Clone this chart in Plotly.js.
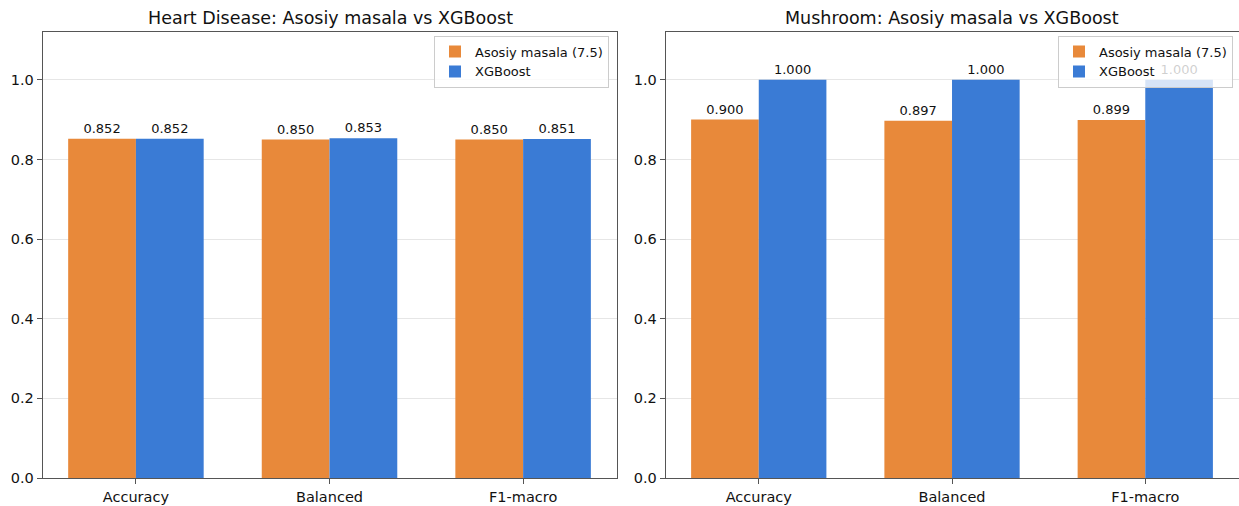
<!DOCTYPE html>
<html>
<head>
<meta charset="utf-8">
<script src="https://cdn.plot.ly/plotly-3.0.1.min.js"></script>
<style>html,body{margin:0;padding:0;background:#fff;}#chart{width:1239px;height:506px;}</style>
</head>
<body>
<div id="chart"></div>
<script>
const categories = ["Accuracy", "Balanced", "F1-macro"];
const seriesNames = ["Asosiy masala (7.5)", "XGBoost"];
const heartBase = [0.852, 0.850, 0.850];
const heartXgb = [0.852, 0.853, 0.851];
const mushBase = [0.900, 0.897, 0.899];
const mushXgb = [1.000, 1.000, 1.000];
const titles = ["Heart Disease: Asosiy masala vs XGBoost", "Mushroom: Asosiy masala vs XGBoost"];
const yTicks = [0, 0.2, 0.4, 0.6, 0.8, 1.0];

const ORANGE = "#e8893a";
const BLUE = "#3a7bd5";
const FONT = "DejaVu Sans, sans-serif";

function bar(y, name, color, xa, ya, leg) {
  return {
    type: "bar", x: [0, 1, 2], y: y, name: name,
    marker: {color: color, line: {width: 0}},
    xaxis: xa, yaxis: ya, legend: leg,
    texttemplate: "%{y:.3f}", textposition: "outside",
    textfont: {family: FONT, size: 13, color: "#111"},
    constraintext: "none", cliponaxis: false, hoverinfo: "skip"
  };
}

const data = [
  bar(heartBase, seriesNames[0], ORANGE, "x", "y", "legend"),
  bar(heartXgb, seriesNames[1], BLUE, "x", "y", "legend"),
  bar(mushBase, seriesNames[0], ORANGE, "x2", "y2", "legend2"),
  bar(mushXgb, seriesNames[1], BLUE, "x2", "y2", "legend2")
];

const W = 1239;
const xCommon = {
  tickmode: "array", tickvals: [0, 1, 2], ticktext: categories,
  range: [-0.48, 2.485], showgrid: false, zeroline: false,
  showline: true, linecolor: "#555", linewidth: 1.3, mirror: true,
  ticks: "outside", ticklen: 5, tickcolor: "#555",
  tickfont: {family: FONT, size: 14.5, color: "#111"}
};
const yCommon = {
  range: [0, 1.12], tickmode: "array", tickvals: yTicks, tickformat: ".1f",
  showgrid: true, gridcolor: "#e6e6e6", gridwidth: 1, zeroline: false,
  showline: true, linecolor: "#555", linewidth: 1.3,
  ticks: "outside", ticklen: 5, tickcolor: "#555",
  tickfont: {family: FONT, size: 14.5, color: "#111"}
};
const legCommon = {
  bgcolor: "rgba(255,255,255,0.8)", bordercolor: "#cccccc", borderwidth: 1,
  font: {family: FONT, size: 13, color: "#111"},
  xanchor: "right", yanchor: "top", xref: "paper", yref: "paper",
  tracegroupgap: 0, itemwidth: 30
};

const layout = {
  width: W, height: 506,
  margin: {l: 0, r: 0, t: 32, b: 28},
  paper_bgcolor: "#fff", plot_bgcolor: "#fff",
  barmode: "group", bargap: 0.3, bargroupgap: 0,
  font: {family: FONT},
  xaxis: Object.assign({}, xCommon, {domain: [43 / W, 617 / W], anchor: "y"}),
  yaxis: Object.assign({}, yCommon, {anchor: "x", mirror: true}),
  xaxis2: Object.assign({}, xCommon, {domain: [666 / W, 1], anchor: "y2"}),
  yaxis2: Object.assign({}, yCommon, {anchor: "x2", mirror: false}),
  legend: Object.assign({}, legCommon, {x: 609 / W, y: 0.992}),
  legend2: Object.assign({}, legCommon, {x: 1233 / W, y: 0.992}),
  showlegend: true,
  annotations: [
    {text: titles[0], xref: "paper", yref: "paper", x: 330 / W, y: 1.032, xanchor: "center", yanchor: "middle", showarrow: false, font: {family: FONT, size: 17.5, color: "#111"}},
    {text: titles[1], xref: "paper", yref: "paper", x: 952 / W, y: 1.032, xanchor: "center", yanchor: "middle", showarrow: false, font: {family: FONT, size: 17.5, color: "#111"}}
  ]
};

Plotly.newPlot("chart", data, layout, {displayModeBar: false, staticPlot: true});
</script>
</body>
</html>
